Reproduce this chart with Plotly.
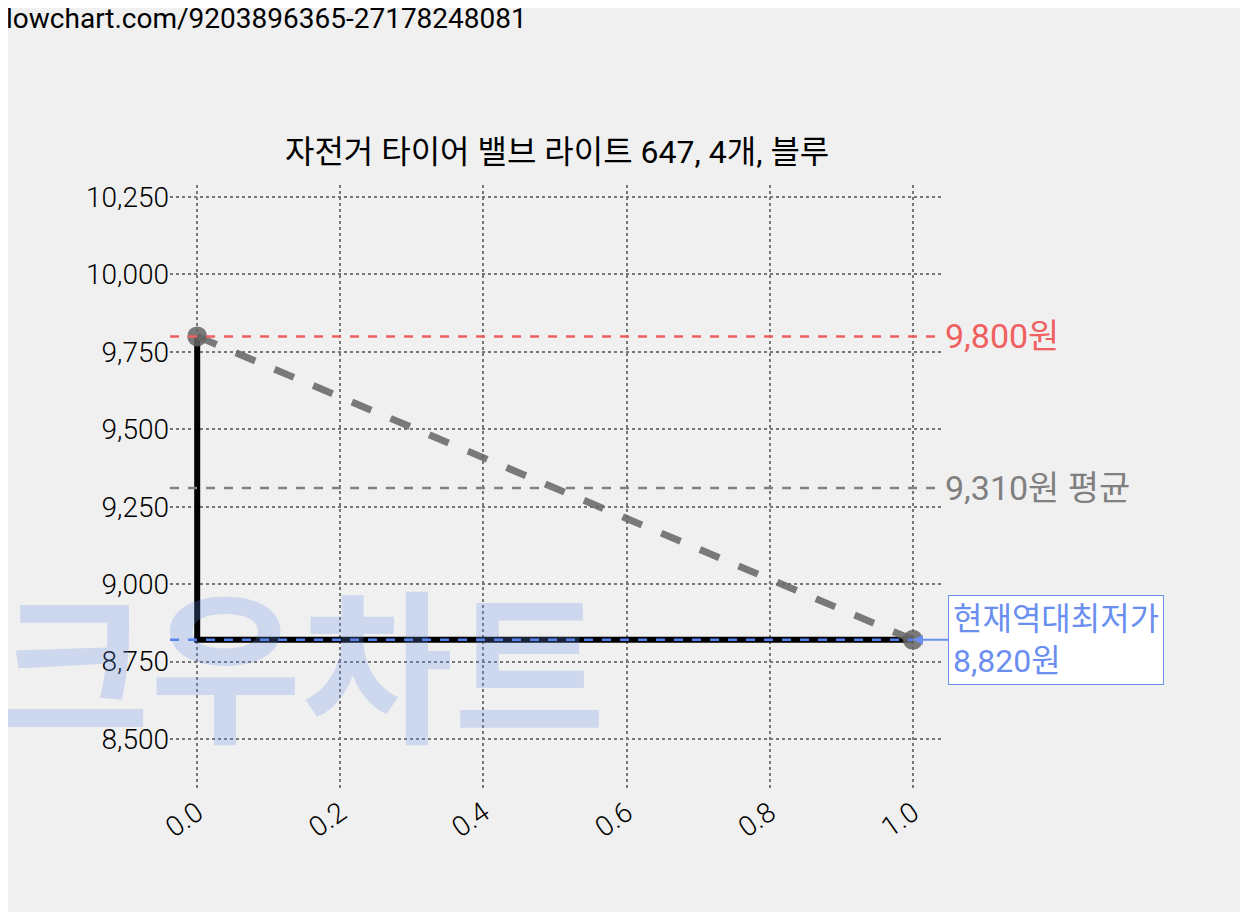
import plotly.graph_objects as go

xs = [0, 1]
prices = [9800, 8820]
step_x = [0, 0, 1]
step_y = [9800, 8820, 8820]
max_price = 9800
avg_price = 9310
min_price = 8820
title = "자전거 타이어 밸브 라이트 647, 4개, 블루"
yticks = [8500, 8750, 9000, 9250, 9500, 9750, 10000, 10250]
xticks = [0.0, 0.2, 0.4, 0.6, 0.8, 1.0]

fig = go.Figure()
fig.add_annotation(xref="paper", yref="paper", x=-0.225, y=0.03, xanchor="left", yanchor="bottom",
                   text="<b>크우차트</b>", showarrow=False, font=dict(size=165, color="rgba(100,140,230,0.25)"))
fig.add_trace(go.Scatter(x=step_x, y=step_y, mode="lines", line=dict(color="black", width=6)))
fig.add_trace(go.Scatter(x=xs, y=prices, mode="lines+markers",
    line=dict(color="rgba(100,100,100,0.85)", width=7, dash="dash"),
    marker=dict(size=20, color="rgba(100,100,100,0.85)")))

fig.add_hline(y=max_price, line=dict(color="#f06060", width=2.5, dash="dash"))
fig.add_hline(y=avg_price, line=dict(color="#808080", width=2.5, dash="dash"))
fig.add_shape(type="line", x0=-0.038, x1=1, y0=min_price, y1=min_price, line=dict(color="#5580f0", width=2.5, dash="dash"))

fig.add_annotation(x=1.042, y=max_price, xanchor="left", text=f"{max_price:,}원", showarrow=False,
                   font=dict(size=34, color="#f06060"))
fig.add_annotation(x=1.042, y=avg_price, xanchor="left", text=f"{avg_price:,}원 평균", showarrow=False,
                   font=dict(size=34, color="#808080"))
fig.add_annotation(x=1, y=min_price, ax=35, ay=0, axref="pixel", ayref="pixel", xanchor="left",
                   text=f"현재역대최저가<br>{min_price:,}원", showarrow=True, arrowhead=2, arrowcolor="#6b8ff0",
                   arrowwidth=2, font=dict(size=32, color="#6b8ff0"), align="left",
                   bgcolor="white", bordercolor="#6b8ff0", borderwidth=1, borderpad=4)
fig.add_annotation(xref="paper", yref="paper", x=-0.215, y=1.305, xanchor="left", yanchor="top",
                   text="lowchart.com/9203896365-27178248081", showarrow=False, font=dict(size=28, color="black"))

grid = dict(showgrid=True, gridcolor="#777", griddash="dot", gridwidth=2, zeroline=False, showline=False, ticks="")
fig.update_xaxes(range=[-0.038, 1.042], tickvals=xticks, ticktext=[f"{v:.1f}" for v in xticks],
                 tickangle=-35, tickfont=dict(size=28, weight=300), **grid)
fig.update_yaxes(range=[8335, 10289], tickvals=yticks, ticktext=[f"{v:,}" for v in yticks],
                 tickfont=dict(size=28, weight=300), **grid)
fig.update_layout(width=1248, height=912, paper_bgcolor="#f0f0f0", plot_bgcolor="#f0f0f0",
                  showlegend=False, font=dict(family="Roboto, Noto Sans CJK KR", color="black"),
                  title=dict(text=title, x=0.44, y=0.855, xanchor="center", font=dict(size=32)),
                  margin=dict(l=162, r=313, t=177, b=130))
fig.write_html("out.html")
